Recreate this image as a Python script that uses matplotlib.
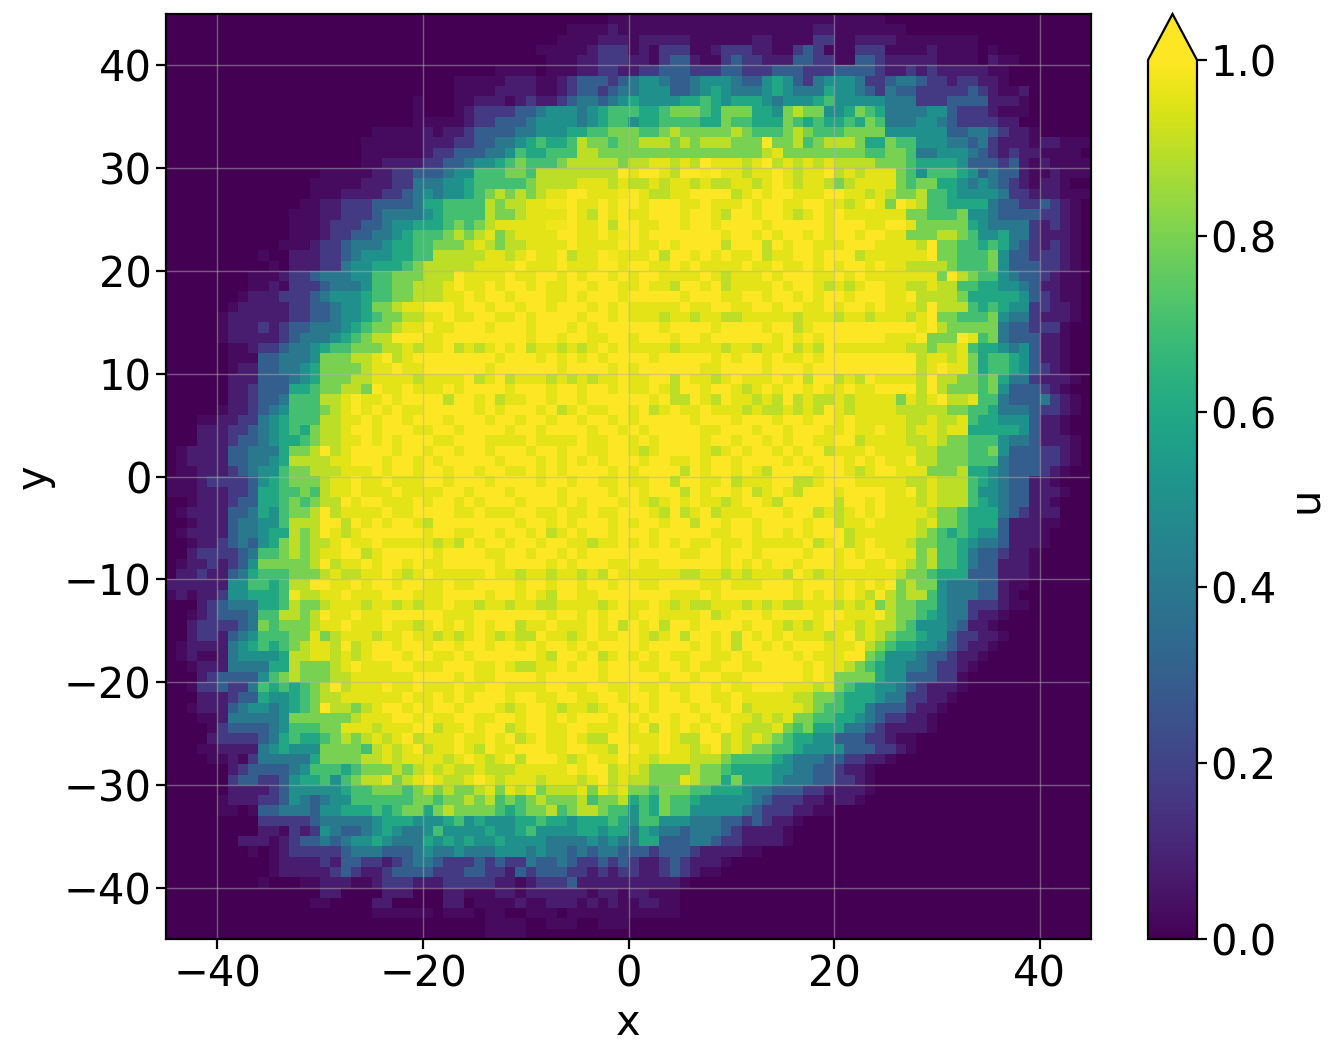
import numpy as np
import matplotlib
matplotlib.use("Agg")
import matplotlib.pyplot as plt

# cell values, one string per row from top (y=45) to bottom (y=-45)
levels = {'0': 0.0, '-': 0.03, '1': 0.08, '2': 0.17, '3': 0.3, '4': 0.4, '5': 0.5, '6': 0.6,
          '7': 0.7, '8': 0.8, '9': 0.9, 'n': 0.96, 'a': 0.98, 'b': 1.0}

# columns x=-45..0
u_left = [
"0000000000 0000000000 0000000000 0000000000 000--",
"0000000000 0000000000 0000000000 000000000- ---1-",
"0000000000 0000000000 0000000000 00000000-- --111",
"0000000000 0000000000 0000000000 000000---- -1222",
"0000000000 0000000000 0000000000 0000000--- 11222",
"0000000000 0000000000 0000000000 00----0--- 11221",
"0000000000 0000000000 00000000-- ---111--12 33323",
"0000000000 0000000000 00000000-- --1111--12 33234",
"0000000000 0000000000 0000-000-- 111-121123 44345",
"0000000000 0000000000 0000-000-1 2222334555 45677",
"0000000000 0000000000 0000-----1 2233345555 45677",
"0000000000 0000000000 -----1-112 3333445556 67788",
"0000000000 000000000- -----11122 3344567667 98878",
"0000000000 000000000- -----12233 3445766777 99888",
"0000000000 000000000- -111122334 5567877789 99998",
"0000000000 00000----- 1122333455 7778879999 9999b",
"0000000000 0000-----1 1122444556 7777789999 nnn9n",
"0000000000 0000---111 1223454556 7898989nnb bnnna",
"0000000000 000--11222 3333466777 79899nnaab nnbnb",
"0000000000 00---11222 3444456777 79889nnnnb n9bnb",
"0000000000 00---12223 3455666787 89nnnnnaab nnb9b",
"0000000000 00---12233 4456777898 9n89nnnnbb nnbna",
"0000000000 0---122344 4566778889 n9899nnnnb nnnnb",
"000000000- 0011122345 5566779999 9nn9nbnnb9 nnban",
"0000000000 -011122455 6667899999 nnnnbnnnbn nnbbn",
"00000000-- -122344455 77888999bn nnnbnnbbnb nbbnb",
"00000000-- 1-22234445 7788999nbn nbnbbnbnnb bnbbn",
"0000000-11 1222345556 7788999nnb nbbnbbbnnb nbbbn",
"000000-111 1122334556 889nnbbbnb bnbbnbbnbb bnbnb",
"00000-1111 1122334556 78899nnbnn bbnnbnbbbb nbbnb",
"00000-1112 1233444567 889nnbnnbb bnbbbnbbbn bnbbb",
"00000-1111 1234445678 99bbbnnbbb bbbbbnbbnb bnnbb",
"000000--12 2344567788 899n9nnb9n 9nbnb9nn9n 9nbnb",
"000000---3 3444588899 nb9nbbbbbb bbnbbbnbnb nbnbb",
"000000-113 3445688889 nnbnnbbbbb bnbbbbbbnb bbbnb",
"0000001113 3345688899 nnnn9nnnnb 9nb9nnn9n9 n9nnb",
"0000001123 3366788998 bnnbnnnbnb bbbnbbbnbb nbbnb",
"0000001123 3477799nbn nbnbbbb9bb nb9nnbbnbb nbbbb",
"00000-1123 4577789nbn bnbnnbbbbb nbnbbbnb9n bnnbb",
"000--11224 5677799nnb nbbnbbbnbb bnbbnbbnbb nbbnb",
"0001112234 5676899nbb nbbbnnbbnb bbbnbbnbbb bnbbn",
"0001112334 5667899nnb nbnbbbnnbb bnnnnbnnnn bnnbb",
"0-11113344 46889b9nbb bbnbbnbbnb bnbbbnbbnb bnnbb",
"0-11113344 569999nnbb bnbbnbnbbb bbnbbbnbnb nbnbb",
"0--1112345 5788999nnn bnbbnbbnbb nbbnnbnbnb bbbnb",
"---1222235 678889nnbn nbnnnbbnbb bnbbbbnbbn bbnnb",
"---1112236 677879nnbn nnbnnnnbbn bbbnbbbbnb bbbnb",
"00-1112336 6787899bnb bnnnbnbbnb nbbbnbbbnb nbbbn",
"0-11113346 57889b9nnn nbnnbbbbnn bnnnbbnnbn nbnnb",
"00-1113445 57999bb9bn bnbbn9bbbb bbbbnbbnbn bbbnb",
"0-11113445 66989bn9nb bbbbbnbbnn bbnbbnb9nb nbbnb",
"00-1123435 689899nbnn bnnnnn9n9b nbbnbbnbbn n9nnb",
"0012222347 78989nnbb9 nbbbbbnbbb bnnbbnbbnb nbbbb",
"0-11212358 88889b9nnb nbbnbnnbbb bbnbbbbnbn bbbnn",
"0112113467 778889n99n nbn9nbnnnn nbnn9nn9nn 9n9bn",
"1111115577 6799bbnnbn bbnbbnnbnn bbbbnbbnbb nbbnb",
"-1-1125566 67a99nnbnn nbbbnnnbbb bnbbnbn9bb nnbbb",
"0001234446 679889nnn9 nn9n9nnbnn 9nn9nn99nn nn9nb",
"00-1233347 79989bnnbn nbbbbbbnnn bbbbbbbnbb nbnbb",
"0012222348 78889nnbnn nbnn9nbnbn bnbb9nnbnn nbnb9",
"0012213457 7788n89nnn 9nnbnn9n9n bn9n99bnn9 nbnnb",
"0-11114567 6789nn9b9n bbnbbnbbnb bnbbnbnbbn bnbbb",
"0-1--14555 5699nn9n9n bbbnbbnnbn bbbbbbn9bb nb9nb",
"00-1114444 6698889nbn nnbbnnnbbb nnbn99nnbn bbnbb",
"0001233335 78988899nn nnnnbbbbnb nnbbbbnbbb bbnbb",
"00-2232247 676789b9nn nbnnbnnnbn nbbnnnnbbn nbbnn",
"0001112336 5567899nnn nnnbnnbnbn bbbnbbnnbb nnbbn",
"00-1113455 45678b9989 nbbnbnbbnb bbn9nbbn9n n9nbb",
"000--14444 458888889n nnbbnbnnbb nnbbnbbnbn bbbnb",
"0000-23333 4577788nnn 9nnnbb9nnb nbb9nbbnnb bnnnb",
"0000122223 4676678989 n9nb9nnnbn nbnb9nbnnb n99bb",
"000--11114 5655588887 9n9nb9nnbn 9bnnbbbnnb bnn9b",
"0000--1-24 4444688889 9n9nnnn9nb n9nb9bbbn9 nbnnb",
"0000001233 3345777678 88989n9n99 n999nnnnnb nbb9n",
"0000002332 2356675789 9n89nbn99n bn9nnn9nnn 9nb9n",
"0000001111 2355555677 8887898988 9n8n9n8999 n8n9n",
"00000-1112 2354345577 7777887889 8978789888 97889",
"00000--0-3 3444355666 7678868988 8876788978 99877",
"0000000002 2222344444 5666555675 6555667665 66676",
"0000000001 1-21254334 5654457555 5655675555 66566",
"0000000111 -123343455 6544465656 5565555444 45454",
"00000000-0 -122222344 4333454454 4455545443 43443",
"0000000000 -111121332 2123443222 3232243343 22323",
"0000000000 -111112321 1233332223 3221323332 21212",
"000000000- 000--111-- 1222111222 2211-12223 11111",
"0000000000 0000011000 011100011- --11-11111 1-11-",
"0000000000 0000--0000 1100000110 ----1--111 -1-1-",
"0000000000 0000000000 ------0--- 0--00---0- -----",
"0000000000 0000000000 0000000000 0----00--- 00---",
"0000000000 0000000000 0000000000 0----00000 00000",
]

# columns x=0..45
u_right = [
"----- ---------- ---------- 0000000000 0000000000",
"----- ---------- ---11----- --00000000 0000000000",
"-1111 1------11- ---22--111 1--------0 0000000000",
"-1-22 2--122211- -232---222 ----1----0 -000000000",
"11-23 31--232211 13322--332 11111----0 1--0000000",
"12233 3222332223 3322233332 1121211111 --00000000",
"45543 3455543356 5324555422 3443221221 1-00000000",
"45553 3456544456 5444655432 4332222232 1--1000000",
"65555 6676566654 5556755555 4442223333 111-000000",
"76678 8876888665 8988556876 4444553222 1---000000",
"56677 7766877666 8767667687 4445543222 2110000000",
"87789 8888898777 8987778888 5555553344 3211-00000",
"89998 98999888b8 8978999866 8775554434 2111-11---",
"88888 888888889n 8888888877 8874455543 21211----0",
"99nn9 n9bnnn9nb9 n9n9n99998 8876666533 3231-1----",
"nbbn9 bbabnn9nnb n9nnb9n9nn n875777653 4331--1---",
"99n9n n9n99nn9nb n9nn989nnn n878866545 4321-11-00",
"bn99n nbbbb9nbnb bnnnbbnn9n 9889776555 5422111---",
"bnbbb nnbnnnbnbb nnbbnn9nbn 8bn9776666 43322321-0",
"nnbbb nbbn9bbnbb n9nbnbnnnn nn88777855 43333221-0",
"bnnbb nbbnbbbbnb bbbbnbbbnn bbn8888865 44442121-0",
"bnbbb bbbbnbbnbn bbnbnbbnbb nn88899875 56442111-0",
"bnnbn bbbb9bbb9b nbbnnnbbbn nnn9b88776 76432121-0",
"nnb9b bnbnbnnb9n nbbnbbb9nn nnnnb88777 85332221-0",
"bbnnb nbnnnnbnnb nnbnbnbbnb nn99998777 85333221-0",
"nbbnn nnbn9nnnbn bbbnnbnbnn nnnnn8b987 7543321--0",
"nbnn9 bbnb9nnnnb nbbn9n9nbb nn99n99776 6554311--0",
"bbbbb nbbbnnbbnb bnbnbbnbbb nnb9999866 6665321--0",
"nnnnn bnnbbnnbbn bbnnbnbbnb nnn9b99976 76552211-0",
"nnn9n n9nn99nnnn n9nnn9nn9n nn9nb88777 85442111-0",
"bbbnb bbbnbbbbnb b9nbbbbbbb bbbnb98888 8433222-00",
"nbbbn bbnbbbbbbn bnbnbbbbbb nnnb888bn7 8433311-00",
"nnnn9 nnnn9nn9nn b9n9bnnnnn nn99899n76 6545311-00",
"bbnbb bbbnbnbbnb nnbnbbbbbb bbb9nn9n86 7765311-00",
"nbbbb bbnnbbbbnb bbnbbbbbbb bbb9nbnn86 7765321-00",
"nnbb9 bnn9nbnnnb nb9bb9n9bn nnn9b99887 86442111-0",
"nnbn9 bbnbbn9nbn bbnbnnbnnb bbb9b98887 8533321-00",
"bbnb9 9bn9bnn9n9 b9n99n9nnn n8n9nb99n7 74333421-0",
"nb9nb nnbnnn9n99 n9n9bn9nnn n999998877 64443221-0",
"nbbbb bnbbbnbbbn bbnbbnbnnn nn99n99n76 6555311-00",
"bnbbb bbnnbbbnbb nbbbnnbnnb nn9nn9nn66 6665311-00",
"nbnbb bbnbbnbbnb nbbnnbb9nn nn99n98877 75443111-0",
"n9nbb bbn9nbnbbn bnbb9nnnbn nnn9988877 85333221-0",
"bnbbn nbnbbnbbbb nbnbbbnbnb nnb9988877 74333221-0",
"nbbbb 9bnbbnbn9b bbbnbbn9nb bnnn888966 5433321-00",
"nnbb9 bbnnb9nnnb b99nbbbnnn nn99n99976 543311-000",
"bnbbb 9bnbbnb9nb n9bbbnbbbb nnb9n99975 5433111-00",
"bn9nb nbnn9nbbn9 bbbbb9bbnb nnn9n99976 543311-000",
"bbn9b 9nb9nnnbbb nbb9n9nbnb nnnn988766 6432111000",
"nbbnb b9bbnbbnbb bbnbb9nnbn nnn9n88766 63111--000",
"bbnbb bbbnnbbnbb nbnbbb9nnn nnn9876765 53111-0000",
"nbnbn bnnbnnbnnn nnb9nb9nbn nn98877654 43111-0000",
"bbbbb nnbbnbbnbb bbnbbnbnbb nnn8977643 3211-00000",
"bnnbb bbbbnbnbnb bnbbbnbbnn bn98977643 3111-00000",
"nnnnn 99nn9n9nnn 9bn9nnnnnn n988766633 3111-00000",
"bnnbb bbnnbnnnbb bnbbbnbnbn b898854443 31--000000",
"bbbbn nnbnbbbbbb bnbnbnbn9b 9899754443 31-0000000",
"nnbn9 n99nnn9n9n 99nnn9n9n8 9887754422 21--000000",
"nbbnn nnb9nbbbnb bbbnbbnnnb 9887654421 1-00000000",
"bnb9b bnbbbbnbbn 9n9nbnn9n9 9875554311 -000000000",
"bn9nb 9bbnb9bnbn bnnn9nb9n9 8776553221 1-00000000",
"bnbbb bnbnb9bbnb nbbbnnnb98 7665543211 -000000000",
"nbnbn nbbnnbnbbb bnbnnnbb87 555433211- 0000000000",
"bnnbb nbnnbbnnbb bbnbnn9876 55443221-0 0000000000",
"bbbnb bnbbnnbbbb bbnbn88886 5533322-00 0000000000",
"bnnbn nbbnbnnbbb nnn9n87665 5432111-00 0000000000",
"bbnbb nbbnnbnnnn n998876665 442211-000 0000000000",
"nbnbb bnbbnb9nnn nn98776643 33211-0000 0000000000",
"bnbbn bbnbbnn9n9 n887766543 2211-00000 0000000000",
"nb9bn bnbnbn999n 8786664432 1111-00000 0000000000",
"nnnbn 99bb9n9n98 7665533322 1--0000000 0000000000",
"bnnbn n9nb9n9887 7655553332 21-0000000 0000000000",
"nn9nn n999877776 5444332211 -000000000 0000000000",
"n9888 8988766665 54433211-0 0000000000 0000000000",
"99888 n988686665 44433221-0 0000000000 0000000000",
"88788 8776665443 33221111-0 0000000000 0000000000",
"67687 7655555432 2211-11-00 0000000000 0000000000",
"57687 7555554322 211--00000 0000000000 0000000000",
"57755 5444332321 1-00000000 0000000000 0000000000",
"46544 3444321111 -000000000 0000000000 0000000000",
"46633 3443221111 -000000000 0000000000 0000000000",
"33233 321111--00 0000000000 0000000000 0000000000",
"21123 2111-00000 0000000000 0000000000 0000000000",
"21123 21--000000 0000000000 0000000000 0000000000",
"11111 -000000000 0000000000 0000000000 0000000000",
"11--- 0000000000 0000000000 0000000000 0000000000",
"-11-- 0000000000 0000000000 0000000000 0000000000",
"----- 0000000000 0000000000 0000000000 0000000000",
"00000 0000000000 0000000000 0000000000 0000000000",
"00000 0000000000 0000000000 0000000000 0000000000",
]

x_ticks = [-40, -20, 0, 20, 40]
y_ticks = [-40, -30, -20, -10, 0, 10, 20, 30, 40]
cbar_ticks = [0.0, 0.2, 0.4, 0.6, 0.8, 1.0]

rows = [(a + b).replace(' ', '') for a, b in zip(u_left, u_right)]
bad = [(i, len(r)) for i, r in enumerate(rows) if len(r) != 90]
rows = [r[:90].ljust(90, '0') for r in rows] # keep drawing even if one row was miscounted
if bad:
    print("bad rows", bad)
u = np.array([[levels[c] for c in r] for r in rows])

W, H = 1339, 1058
plt.rcParams['font.size'] = 15
fig = plt.figure(figsize=(W/200, H/200), dpi=200)
ax = fig.add_axes([166/W, 1-939/H, 925/W, 925/H])
im = ax.imshow(u, cmap='viridis', vmin=0, vmax=1, extent=[-45, 45, -45, 45], interpolation='nearest')
ax.grid(color='#b0b0b0', linewidth=0.5, alpha=0.5)
ax.set_xticks(x_ticks)
ax.set_yticks(y_ticks)
ax.tick_params(pad=1.7)
ax.set_xlabel('x', labelpad=2.2)
ax.set_ylabel('y', labelpad=3)

cax = fig.add_axes([1148/W, 1-939/H, 49/W, 925/H])
cbar = fig.colorbar(im, cax=cax, extend='max', extendfrac=46/879, ticks=cbar_ticks)
cbar.ax.tick_params(pad=1.3)
cbar.set_label('u', labelpad=2.6)
fig.savefig('out.png', dpi=200)
